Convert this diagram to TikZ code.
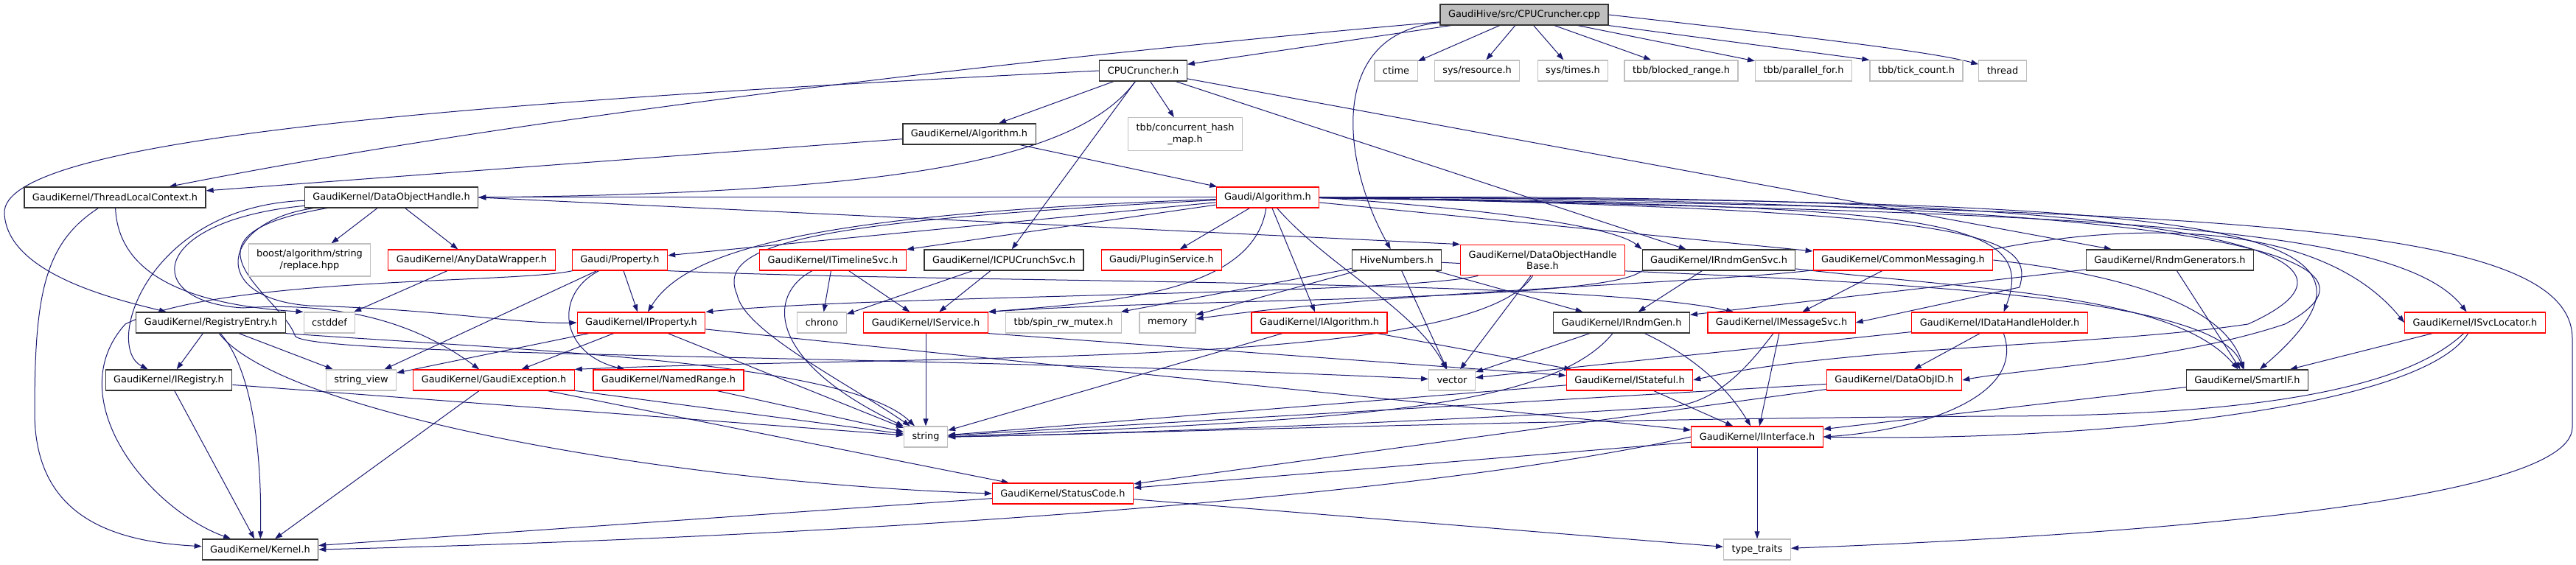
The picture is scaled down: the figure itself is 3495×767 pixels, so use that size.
\documentclass[tikz,border=0pt]{standalone}
\usepackage{fontspec}
\setmainfont{DejaVu Sans}
\usetikzlibrary{arrows.meta}
\definecolor{midnight}{HTML}{191970}
\definecolor{dred}{HTML}{FF0000}
\definecolor{lgray}{HTML}{BFBFBF}
\pgfdeclarelayer{bg}
\pgfsetlayers{bg,main}
\tikzset{
  box/.style={draw, fill=white, line width=1.2pt, inner xsep=11pt, inner ysep=3pt, minimum height=28pt, align=center, font=\fontsize{12.9}{15.5}\selectfont},
  blk/.style={box, draw=black!80},
  rbx/.style={box, draw=dred},
  gbx/.style={box, draw=lgray},
  rootbx/.style={box, draw=black!80, fill=lgray},
  two/.style={inner ysep=8pt},
  ed/.style={draw=midnight, line width=1pt, -{Triangle[length=10pt,width=7pt,fill=midnight]}}
}
\begin{document}
\begin{tikzpicture}[x=1pt,y=-1pt]
\useasboundingbox (0,0) rectangle (3495,767);
% nodes
\node[rootbx] (cpp) at (2068,20) {GaudiHive/src/CPUCruncher.cpp};
\node[blk] (cch) at (1551,96) {CPUCruncher.h};
\node[gbx] (ctime) at (1894,96) {ctime};
\node[gbx] (sysres) at (2004,96) {sys/resource.h};
\node[gbx] (systimes) at (2134,96) {sys/times.h};
\node[gbx] (blocked) at (2281,96) {tbb/blocked\_range.h};
\node[gbx] (parfor) at (2447,96) {tbb/parallel\_for.h};
\node[gbx] (tick) at (2600,96) {tbb/tick\_count.h};
\node[gbx] (thread) at (2717,96) {thread};
\node[blk] (gkalg) at (1315,182) {GaudiKernel/Algorithm.h};
\node[gbx,two] (conchash) at (1608,182) {tbb/concurrent\_hash\\\_map.h};
\node[blk] (tlc) at (156,268) {GaudiKernel/ThreadLocalContext.h};
\node[blk] (doh) at (531,268) {GaudiKernel/DataObjectHandle.h};
\node[rbx] (galg) at (1720,268) {Gaudi/Algorithm.h};
\node[gbx,two] (boost) at (420,353) {boost/algorithm/string\\/replace.hpp};
\node[rbx] (anydw) at (640,353) {GaudiKernel/AnyDataWrapper.h};
\node[rbx] (prop) at (841,353) {Gaudi/Property.h};
\node[rbx] (itl) at (1130,353) {GaudiKernel/ITimelineSvc.h};
\node[blk] (icpu) at (1362,353) {GaudiKernel/ICPUCrunchSvc.h};
\node[rbx] (plugin) at (1576,353) {Gaudi/PluginService.h};
\node[blk] (hive) at (1895,353) {HiveNumbers.h};
\node[rbx,two] (dohb) at (2093,353) {GaudiKernel/DataObjectHandle\\Base.h};
\node[blk] (irgs) at (2332,353) {GaudiKernel/IRndmGenSvc.h};
\node[rbx] (cmsg) at (2582,353) {GaudiKernel/CommonMessaging.h};
\node[blk] (rgen) at (2944,353) {GaudiKernel/RndmGenerators.h};
\node[blk] (regent) at (286,438) {GaudiKernel/RegistryEntry.h};
\node[gbx] (cstddef) at (447,438) {cstddef};
\node[rbx] (iprop) at (870,438) {GaudiKernel/IProperty.h};
\node[gbx] (chrono) at (1115,438) {chrono};
\node[rbx] (isvc) at (1256,438) {GaudiKernel/IService.h};
\node[gbx] (spin) at (1443,438) {tbb/spin\_rw\_mutex.h};
\node[gbx] (memory) at (1584,438) {memory};
\node[rbx] (ialg) at (1790,438) {GaudiKernel/IAlgorithm.h};
\node[blk] (irg) at (2200,438) {GaudiKernel/IRndmGen.h};
\node[rbx] (imsg) at (2417,438) {GaudiKernel/IMessageSvc.h};
\node[rbx] (idhh) at (2713,438) {GaudiKernel/IDataHandleHolder.h};
\node[rbx] (isl) at (3358,438) {GaudiKernel/ISvcLocator.h};
\node[blk] (ireg) at (229,516) {GaudiKernel/IRegistry.h};
\node[gbx] (sview) at (490,516) {string\_view};
\node[rbx] (gexc) at (670,516) {GaudiKernel/GaudiException.h};
\node[rbx] (nrange) at (907,516) {GaudiKernel/NamedRange.h};
\node[gbx] (vector) at (1970,516) {vector};
\node[rbx] (istate) at (2211,516) {GaudiKernel/IStateful.h};
\node[rbx] (doid) at (2570,516) {GaudiKernel/DataObjID.h};
\node[blk] (smartif) at (3049,516) {GaudiKernel/SmartIF.h};
\node[gbx] (string) at (1256,593) {string};
\node[rbx] (iint) at (2384,593) {GaudiKernel/IInterface.h};
\node[rbx] (scode) at (1442,670) {GaudiKernel/StatusCode.h};
\node[blk] (kernel) at (353,746) {GaudiKernel/Kernel.h};
\node[gbx] (ttraits) at (2384,746) {type\_traits};
% edges
\begin{pgfonlayer}{bg}
% cpp
\draw[ed] (cpp) -- (cch);
\draw[ed] (cpp) .. controls (1600,60) and (800,140) .. (tlc);
\draw[ed] (cpp) .. controls (1800,45) and (1820,220) .. (hive);
\draw[ed] (cpp) -- (ctime);
\draw[ed] (cpp) -- (sysres);
\draw[ed] (cpp) -- (systimes);
\draw[ed] (cpp) -- (blocked);
\draw[ed] (cpp) -- (parfor);
\draw[ed] (cpp.south east) -- (tick.north west);
\draw[ed] (cpp.east) .. controls (2450,50) and (2620,70) .. (thread);
% CPUCruncher.h
\draw[ed] (cch) -- (gkalg);
\draw[ed] (cch) -- (conchash);
\draw[ed] (cch) -- (icpu);
\draw[ed] (cch) -- (irgs);
\draw[ed] (cch) -- (rgen);
\draw[ed] (cch) .. controls (1460,220) and (1200,262) .. (doh.east);
\draw[ed] (cch.west) .. controls (600,140) and (0,190) .. (6,290) .. controls (10,370) and (150,405) .. (regent);
% GaudiKernel/Algorithm.h
\draw[ed] (gkalg) -- (galg);
\draw[ed] (gkalg) -- (tlc);
% ThreadLocalContext.h
\draw[ed] (tlc) .. controls (60,330) and (47,400) .. (47,560) .. controls (47,700) and (150,735) .. (kernel);
\draw[ed] (tlc) .. controls (160,360) and (230,412) .. (cstddef.north west);
% Gaudi/Algorithm.h
\draw[ed] (galg) -- (doh);
\draw[ed] (galg) -- (prop);
\draw[ed] (galg) -- (itl);
\draw[ed] (galg) -- (plugin);
\draw[ed] (galg) -- (ialg);
\draw[ed] (galg) .. controls (1800,360) and (1920,420) .. (vector);
\draw[ed] (galg) .. controls (1100,300) and (970,330) .. (1000,400) .. controls (1010,450) and (1150,520) .. (string);
\draw[ed] (galg) .. controls (1100,290) and (930,340) .. (iprop);
\draw[ed] (galg) .. controls (1700,400) and (1500,410) .. (isvc.north east);
\draw[ed] (galg) -- (cmsg);
\draw[ed] (galg.east) .. controls (2100,290) and (2200,315) .. (irgs.north west);
\draw[ed] (galg) .. controls (2600,280) and (2770,290) .. (idhh);
\draw[ed] (galg.east) .. controls (2800,290) and (3250,300) .. (isl);
\draw[ed] (galg.east) .. controls (3000,270) and (3300,300) .. (smartif);
\draw[ed] (galg.east) .. controls (3000,285) and (3490,300) .. (3490,460) -- (3490,580) .. controls (3490,690) and (2800,730) .. (ttraits);
\draw[ed] (galg.east) .. controls (3100,270) and (3250,360) .. (3100,440) .. controls (2950,490) and (2750,500) .. (doid.east);
\draw[ed] (galg.east) .. controls (3050,260) and (3250,350) .. (3050,440) .. controls (2850,470) and (2500,470) .. (istate.east);
\draw[ed] (galg.east) .. controls (2700,285) and (2760,320) .. (2740,390) -- (imsg.east);
% DataObjectHandle.h
\draw[ed] (doh) -- (boost);
\draw[ed] (doh) -- (anydw);
\draw[ed] (doh.east) -- (dohb.north west);
\draw[ed] (doh) .. controls (200,280) and (140,470) .. (ireg);
\draw[ed] (doh) .. controls (200,300) and (190,410) .. (330,418) .. controls (420,412) and (540,420) .. (gexc);
\draw[ed] (doh) .. controls (300,300) and (280,405) .. (420,415) .. controls (600,420) and (700,440) .. (iprop.west);
\draw[ed] (doh) .. controls (220,320) and (380,400) .. (400,455) .. controls (400,485) and (1200,480) .. (vector);
% AnyDataWrapper
\draw[ed] (anydw) -- (cstddef);
% Gaudi/Property.h
\draw[ed] (prop) -- (iprop);
\draw[ed] (prop) -- (sview);
\draw[ed] (prop) .. controls (750,400) and (760,480) .. (nrange);
\draw[ed] (prop) .. controls (700,385) and (300,375) .. (170,440) .. controls (80,540) and (200,690) .. (kernel);
\draw[ed] (prop.south east) .. controls (1300,385) and (2150,378) .. (imsg);
% ITimelineSvc / ICPUCrunchSvc
\draw[ed] (itl) -- (chrono);
\draw[ed] (itl) -- (isvc);
\draw[ed] (itl) .. controls (1040,400) and (1040,490) .. (string);
\draw[ed] (icpu) -- (chrono);
\draw[ed] (icpu) -- (isvc);
% HiveNumbers
\draw[ed] (hive) -- (spin);
\draw[ed] (hive) -- (memory);
\draw[ed] (hive) -- (vector);
\draw[ed] (hive) -- (irg);
\draw[ed] (hive) .. controls (2400,380) and (3000,385) .. (smartif);
% DataObjectHandleBase
\draw[ed] (dohb) -- (vector);
\draw[ed] (dohb) .. controls (2000,500) and (1300,480) .. (gexc.north east);
\draw[ed] (dohb) .. controls (1900,400) and (1200,400) .. (iprop.north east);
% IRndmGenSvc
\draw[ed] (irgs) -- (irg);
\draw[ed] (irgs.south west) .. controls (2180,410) and (1600,405) .. (isvc.north east);
\draw[ed] (irgs) .. controls (2700,395) and (2950,400) .. (smartif);
% CommonMessaging
\draw[ed] (cmsg) -- (imsg);
\draw[ed] (cmsg) .. controls (2300,385) and (1900,395) .. (memory);
\draw[ed] (cmsg.east) .. controls (2900,375) and (3020,420) .. (smartif);
\draw[ed] (cmsg.north east) .. controls (2900,300) and (3150,300) .. (isl.west);
% RndmGenerators
\draw[ed] (rgen) -- (irg);
\draw[ed] (rgen) -- (smartif);
% RegistryEntry
\draw[ed] (regent) -- (ireg);
\draw[ed] (regent) .. controls (350,510) and (355,650) .. (kernel);
\draw[ed] (regent) -- (sview);
\draw[ed] (regent) .. controls (380,560) and (900,655) .. (scode.west);
\draw[ed] (regent.south east) .. controls (700,475) and (1150,490) .. (string);
% IProperty
\draw[ed] (iprop) -- (gexc);
\draw[ed] (iprop) -- (string);
\draw[ed] (iprop) -- (sview);
\draw[ed] (iprop) -- (iint);
% IService / IAlgorithm
\draw[ed] (isvc) -- (string);
\draw[ed] (isvc.south east) -- (istate);
\draw[ed] (ialg) -- (string);
\draw[ed] (ialg) -- (istate);
% IRndmGen
\draw[ed] (irg) -- (vector);
\draw[ed] (irg) .. controls (2100,560) and (1800,570) .. (string.east);
\draw[ed] (irg) .. controls (2290,480) and (2340,520) .. (iint);
% IMessageSvc
\draw[ed] (imsg) .. controls (2370,500) and (2330,545) .. (2270,552) .. controls (2000,570) and (1500,590) .. (string.east);
\draw[ed] (imsg) -- (iint);
% IStateful
\draw[ed] (istate) -- (iint);
\draw[ed] (istate) -- (string);
% IDataHandleHolder
\draw[ed] (idhh) -- (doid);
\draw[ed] (idhh) .. controls (2750,540) and (2600,585) .. (iint.east);
\draw[ed] (idhh) -- (vector);
% ISvcLocator
\draw[ed] (isl) -- (smartif);
\draw[ed] (isl) .. controls (3250,540) and (3000,565) .. (2700,565) .. controls (2000,570) and (1500,590) .. (string.east);
\draw[ed] (isl) .. controls (3280,560) and (2800,600) .. (iint.east);
% SmartIF
\draw[ed] (smartif) -- (iint);
% DataObjID
\draw[ed] (doid) -- (string);
\draw[ed] (doid) -- (scode);
% GaudiException
\draw[ed] (gexc) -- (kernel);
\draw[ed] (gexc) -- (scode);
\draw[ed] (gexc) -- (string);
% NamedRange
\draw[ed] (nrange) -- (string);
% IRegistry
\draw[ed] (ireg) -- (kernel);
\draw[ed] (ireg) -- (string);
% StatusCode
\draw[ed] (scode) -- (kernel);
\draw[ed] (scode) -- (ttraits);
% IInterface
\draw[ed] (iint) -- (ttraits);
\draw[ed] (iint) -- (scode);
\draw[ed] (iint.west) .. controls (1900,680) and (1100,730) .. (kernel.east);
\end{pgfonlayer}
\end{tikzpicture}
\end{document}
